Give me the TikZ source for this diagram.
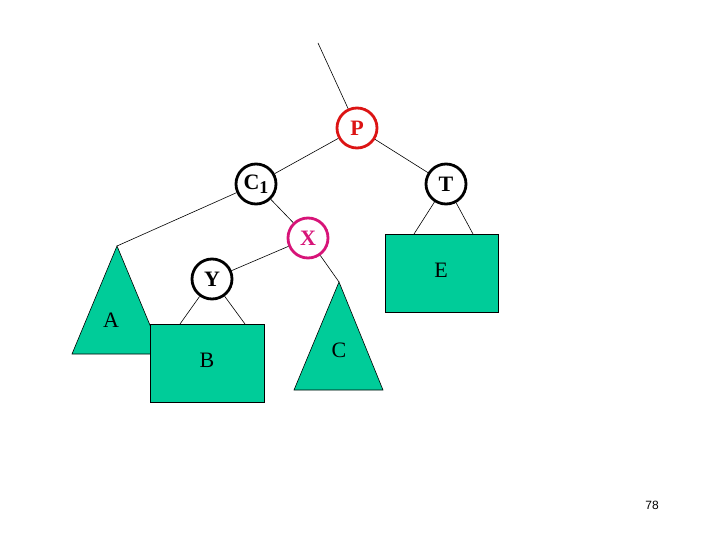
\documentclass[tikz,border=0pt]{standalone}
\usepackage{fontspec}
\setmainfont{Liberation Serif}
\newfontfamily\numfont{Liberation Sans}
\definecolor{sea}{RGB}{0,204,153}
\definecolor{pred}{RGB}{220,20,20}
\definecolor{xmag}{RGB}{215,20,120}
\begin{document}
\begin{tikzpicture}[x=1pt,y=-1pt,
  tnode/.style={circle,draw=black,line width=2.8pt,minimum size=40pt,inner sep=0pt,fill=white,font=\fontsize{22}{24}\selectfont\bfseries},
  conn/.style={draw=black,line width=0.6pt},
  tri/.style={fill=sea,draw=black,line width=0.6pt},
  lab/.style={font=\fontsize{22}{24}\selectfont}]
\useasboundingbox (0,0) rectangle (720,540);
% subtrees
\draw[tri] (117,246) -- (162,354) -- (72,354) -- cycle;
\node[lab] (A) at (111,320) {A};
\draw[tri] (150,324) rectangle (264,402);
\node[lab] (B) at (207,360) {B};
\draw[tri] (339,282) -- (383,390) -- (294,390) -- cycle;
\node[lab] (C) at (339,350) {C};
\draw[tri] (385,234) rectangle (498,312);
\node[lab] (E) at (441,270) {E};
\coordinate (top) at (318,43);
\coordinate (Aapex) at (117,246);
\coordinate (Capex) at (339,282);
\coordinate (B1) at (180,324);
\coordinate (B2) at (245,324);
\coordinate (E1) at (414,234);
\coordinate (E2) at (473,234);
% nodes
\node[tnode,draw=pred,text=pred] (P) at (357,128) {P};
\node[tnode] (C1) at (256,184) {C\raisebox{-0.35ex}{\fontsize{18}{20}\selectfont 1}};
\node[tnode] (T) at (446,184) {T};
\node[tnode,draw=xmag,text=xmag] (X) at (308,238) {X};
\node[tnode] (Y) at (212,279) {Y};
% connectors
\draw[conn] (top) -- (P);
\draw[conn] (P) -- (C1);
\draw[conn] (P) -- (T);
\draw[conn] (C1) -- (Aapex);
\draw[conn] (C1) -- (X);
\draw[conn] (X) -- (Y);
\draw[conn] (X) -- (Capex);
\draw[conn] (Y) -- (B1);
\draw[conn] (Y) -- (B2);
\draw[conn] (T) -- (E1);
\draw[conn] (T) -- (E2);
\node[font=\numfont\fontsize{12}{14}\selectfont] (num) at (652,505) {78};
\end{tikzpicture}
\end{document}
